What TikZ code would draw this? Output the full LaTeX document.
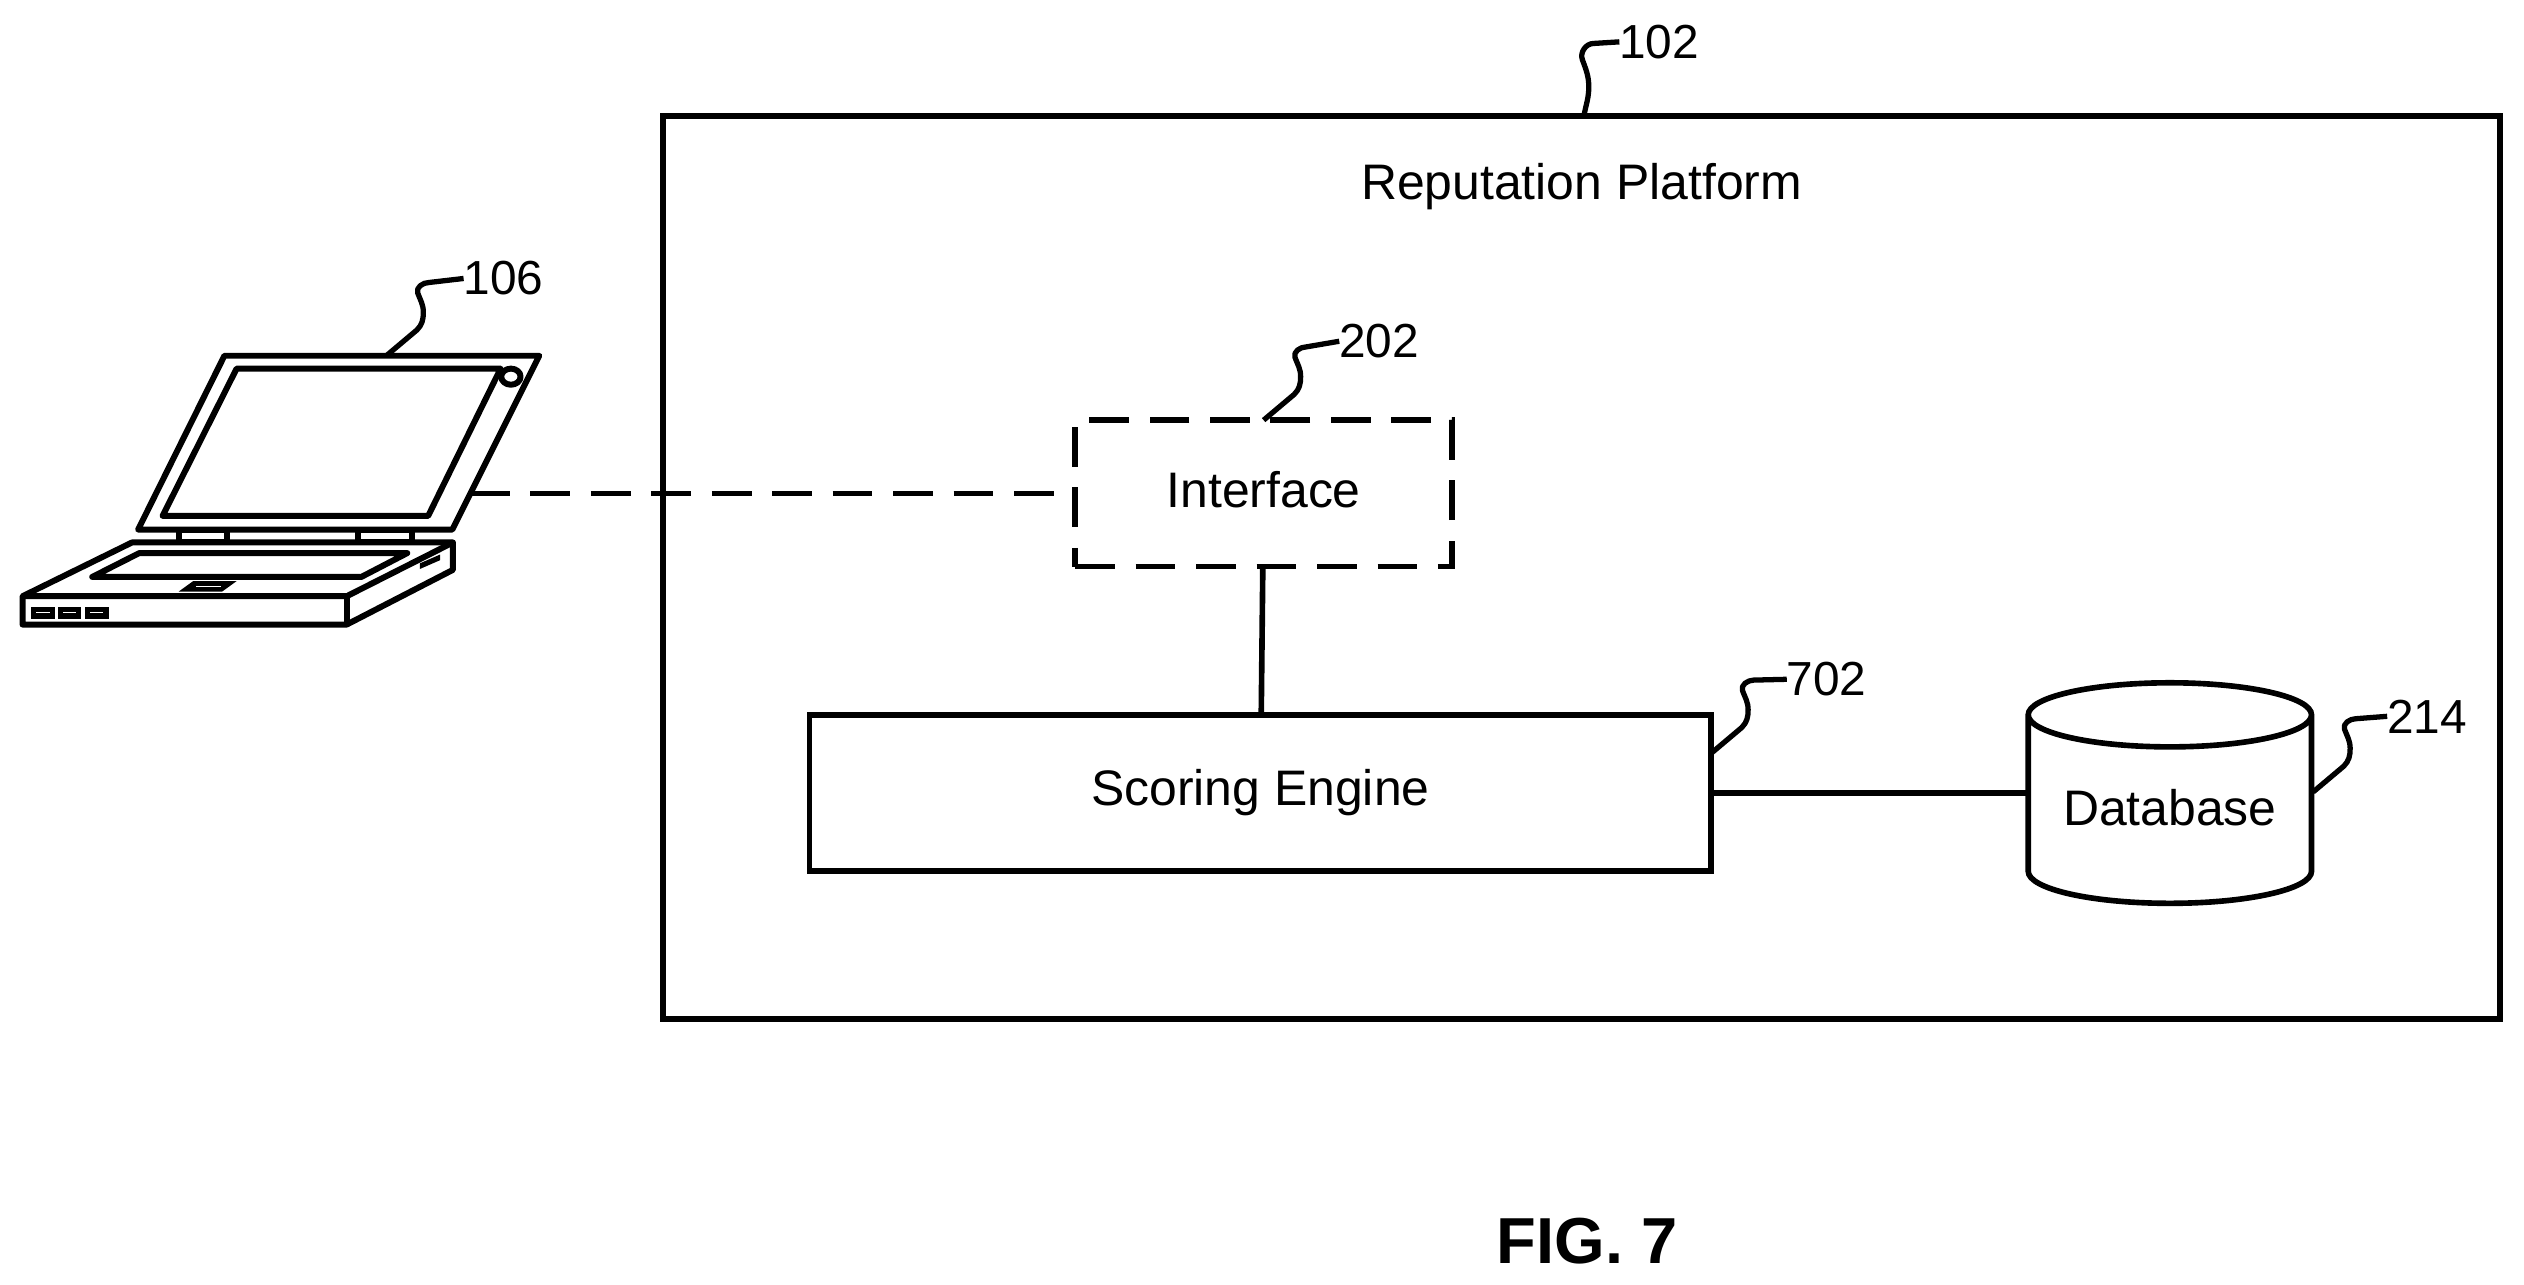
\documentclass[tikz,border=0pt]{standalone}
\usepackage{fontspec}
\setmainfont{Liberation Sans}
\usetikzlibrary{shapes.geometric}
\def\un{0.016097cm}
\tikzset{
	blockbox/.style={draw,rectangle,line width=1.6pt,inner sep=0,outer sep=0,font=\fontsize{14.2}{16}\selectfont},
	dashbox/.style={blockbox,dash pattern=on 11.3pt off 5.9pt},
	dashlink/.style={line width=1.6pt,dash pattern=on 11.3pt off 5.9pt},
	solidlink/.style={line width=1.6pt},
	leadline/.style={line width=1.5pt,line join=round},
	reflabel/.style={inner sep=0,outer sep=0,anchor=west,font=\fontsize{13.6}{16}\selectfont},
	caption/.style={inner sep=0,font=\fontsize{18.5}{22}\selectfont\bfseries},
	plain/.style={inner sep=0,font=\fontsize{14.2}{16}\selectfont},
	laptop/.style={line width=1.7pt,line join=round}
}
% wavy lead from a point on a shape to its number
\newcommand\leadwave[2]{%
\draw[leadline] (#1) -- ++(19,-16) to[out=45,in=-90] ++(4,-11) to[out=90,in=-70] ++(-3.5,-12) to[out=110,in=180] ++(7,-6.5) -- (#2.west);
}
\begin{document}
\begin{tikzpicture}[x=\un,y=-\un]
	\useasboundingbox (0,0) rectangle (1568,797.7);

	%% the platform and what is in it
	\node[blockbox,minimum width=1141*\un,minimum height=561*\un] (platform) at (982.5,352.5) {};
	\node[plain] (platformtitle) at (982.5,116) {Reputation Platform};
	\node[dashbox,text depth=2pt,minimum width=234*\un,minimum height=91*\un] (interface) at (785,306.5) {Interface};
	\node[blockbox,minimum width=560*\un,minimum height=97*\un] (scoring) at (783,492.5) {Scoring Engine};
	\node[cylinder,shape border rotate=90,aspect=0.3,draw,line width=1.6pt,inner sep=0,outer sep=0,text depth=1.5pt,
		minimum width=176*\un,minimum height=137*\un,font=\fontsize{14.2}{16}\selectfont] (database) at (1348,503.5) {Database};

	\draw[solidlink] (interface) -- (scoring);
	\draw[solidlink] (scoring.east) -- (scoring.east -| database.west);

	%% laptop
	\draw[laptop] (139.4,221) -- (335,221) -- (281,329) -- (85.8,329) -- cycle;
	\draw[laptop] (147,229) -- (311,229) -- (266,320.5) -- (101,320.5) -- cycle;
	\draw[laptop] (317.4,234) ellipse (6 and 5);
	\draw[laptop] (111,329) rectangle (141,336.5);
	\draw[laptop] (222.7,329) rectangle (255.7,336.5);
	\draw[laptop] (82,337) -- (281.4,337) -- (281.4,354) -- (215.4,388) -- (14,388) -- (14,370.4) -- cycle;
	\draw[laptop] (14,370.4) -- (215.4,370.4) -- (281.4,337);
	\draw[laptop] (215.4,370.4) -- (215.4,388);
	\draw[laptop] (86.5,343.6) -- (253,343.6) -- (224.5,358.4) -- (57.3,358.4) -- cycle;
	\fill (120,361) -- (147,361) -- (138,367.5) -- (111,367.5) -- cycle;
	\draw[white,line width=0.5pt] (122,364.3) -- (137,364.3);
	\fill (260.8,350) -- (273.4,344.5) -- (273.4,348) -- (260.8,353.5) -- cycle;
	\foreach \xp in {21,37.4,54.3}
		\draw[line width=1.5pt] (\xp,378.6) rectangle (\xp+11.5,382.7);

	\coordinate (lidedge) at (292,306.5);
	\draw[dashlink] (lidedge) -- (interface.west);

	%% reference numbers
	\node[reflabel] (ref102) at (1006,26) {102};
	\node[reflabel] (ref106) at (288,173) {106};
	\node[reflabel] (ref202) at (832,212) {202};
	\node[reflabel] (ref702) at (1110,422) {702};
	\node[reflabel] (ref214) at (1483,445) {214};

	\coordinate (lidtop) at (240,221);
	\coordinate (interfacetop) at (785,261);
	\coordinate (scoringside) at (1063,468);
	\coordinate (databaseside) at (1437,492);
	\coordinate (platformtop) at (984,72);

	\leadwave{lidtop}{ref106}
	\leadwave{interfacetop}{ref202}
	\leadwave{scoringside}{ref702}
	\leadwave{databaseside}{ref214}
	\draw[leadline] (platformtop) to[out=80,in=-90] ++(3,-18) to[out=90,in=-70] ++(-4,-17) to[out=110,in=180] ++(7,-10) -- (ref102.west);

	\node[caption] (figcaption) at (986,771) {FIG. 7};
\end{tikzpicture}
\end{document}
